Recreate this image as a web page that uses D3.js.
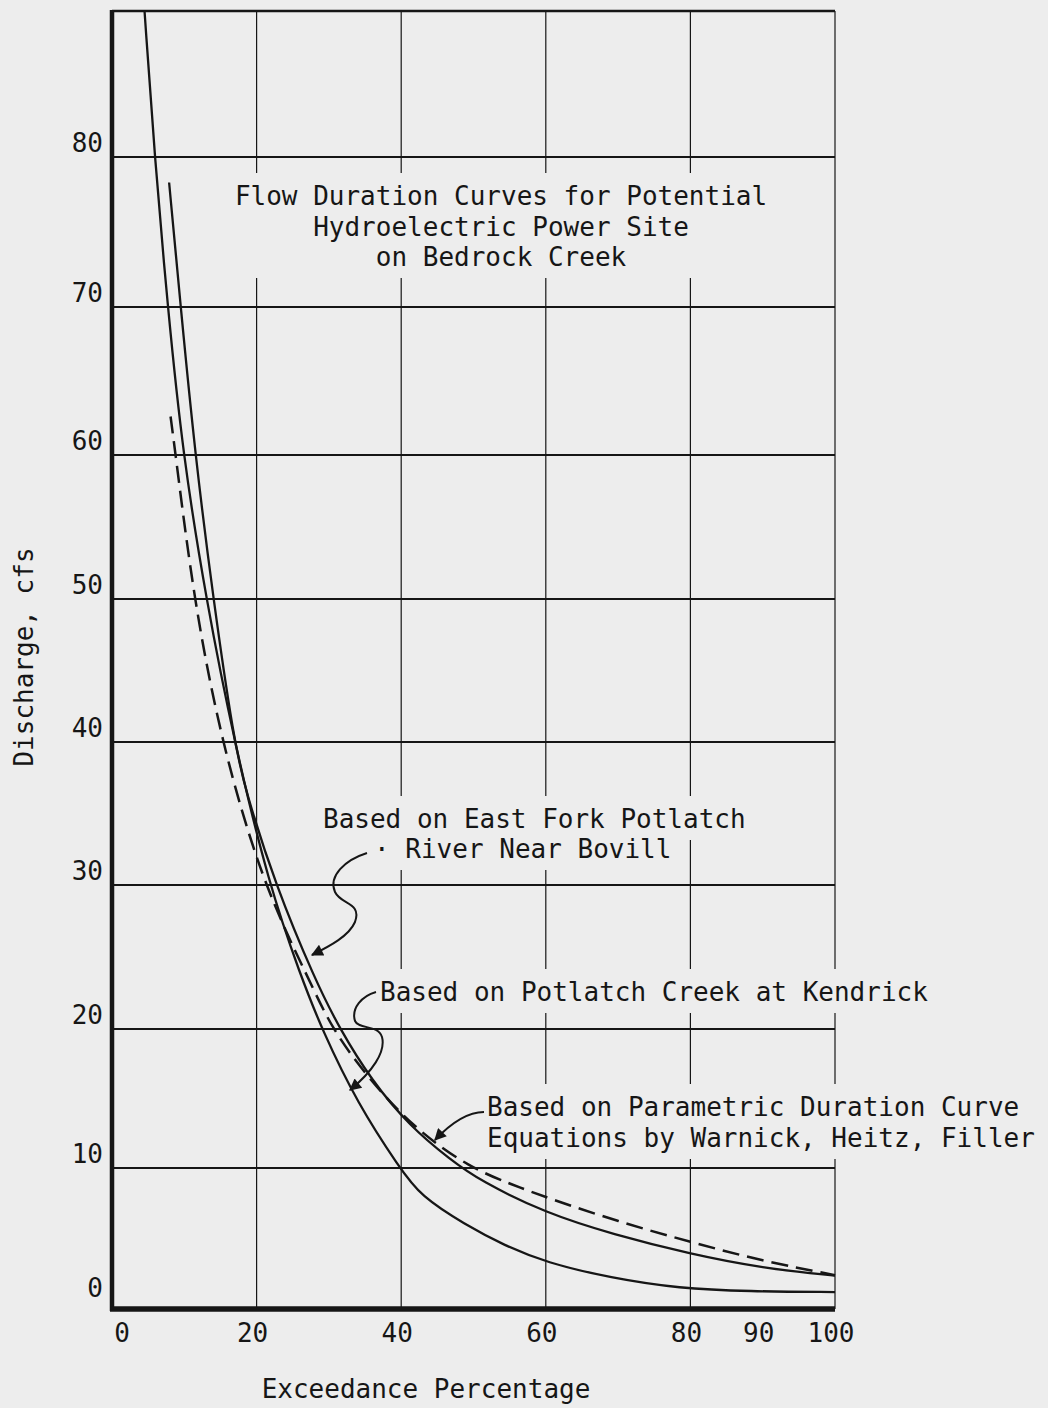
<!DOCTYPE html>
<html>
<head>
<meta charset="utf-8">
<script src="https://cdn.jsdelivr.net/npm/d3@7"></script>
<style>
  body { margin: 0; background: #ededed; }
  text { font-family: "DejaVu Sans Mono", monospace; font-size: 26px; fill: #161616; }
</style>
</head>
<body>
<svg id="chart" width="1048" height="1408"></svg>
<script>
// tick values
var xTickValues = [0, 20, 40, 60, 80, 90, 100];
var xGridValues = [20, 40, 60, 80, 100];
var yTickValues = [0, 10, 20, 30, 40, 50, 60, 70, 80];

// Based on Potlatch Creek at Kendrick (solid, lowest at low flows)
var kendrickPct = [4.5, 5.9, 7.7, 9.8, 13.0, 16.9, 21.7, 26.1, 29.0, 34.0, 39.8, 42.7, 48.8, 54.3, 60.0, 69.0, 78.5, 88.0, 100];
var kendrickCfs = [90, 80, 70, 60, 50, 40, 30, 23.7, 20, 14.6, 10, 8.0, 6.0, 4.5, 3.3, 2.2, 1.45, 1.25, 1.2];

// Based on East Fork Potlatch River near Bovill (solid, upper)
var eastForkPct = [7.9, 9.5, 11.5, 14.0, 16.9, 18.4, 22.6, 28.1, 31.5, 35.9, 41.2, 46.8, 50.9, 60.0, 69.3, 80, 90, 100];
var eastForkCfs = [78.3, 70, 60, 50, 40, 36.7, 30, 23.4, 20, 16.3, 13.0, 10.6, 9.1, 6.8, 5.3, 3.9, 2.9, 2.36];

// Based on parametric duration curve equations (dashed)
var paramPct = [8.1, 8.8, 11.3, 15.1, 20.9, 27.3, 30.4, 35.7, 41.7, 49.5, 55.5, 60.1, 70.0, 80, 90, 100];
var paramCfs = [62.6, 60, 50, 40, 30, 23.4, 20, 16.3, 12.9, 10, 8.8, 7.9, 6.2, 4.75, 3.4, 2.4];

var svg = d3.select('#chart');
var paper = '#ededed', ink = '#161616';

var x = d3.scaleLinear().domain([0, 100]).range([112, 835]);
// the printed grid is slightly uneven, so the value scale is piecewise
var y = d3.scaleLinear()
    .domain([0, 10, 20, 30, 40, 50, 60, 70, 80, 90])
    .range([1309, 1168, 1029, 885, 742, 599, 455, 307, 157, 11]);

var gridLayer = svg.append('g'),
    maskLayer = svg.append('g'),
    curveLayer = svg.append('g'),
    textLayer = svg.append('g');

// horizontal grid (heavier), vertical grid (thin)
gridLayer.selectAll('.hgrid')
    .data(yTickValues.filter(function(d) { return d > 0; }))
  .enter().append('line')
    .attr('x1', x(0)).attr('x2', x(100))
    .attr('y1', y).attr('y2', y)
    .attr('stroke', ink).attr('stroke-width', 2.2);

gridLayer.selectAll('.vgrid')
    .data(xGridValues)
  .enter().append('line')
    .attr('x1', x).attr('x2', x)
    .attr('y1', y(90)).attr('y2', y(0))
    .attr('stroke', ink).attr('stroke-width', 1.2);

gridLayer.append('line')
    .attr('x1', x(0)).attr('x2', x(100)).attr('y1', y(90)).attr('y2', y(90))
    .attr('stroke', ink).attr('stroke-width', 2.5);

// tick labels
textLayer.selectAll('.ylab')
    .data(yTickValues)
  .enter().append('text')
    .attr('x', 103)
    .attr('y', function(d) { return y(d) - (d === 0 ? 12 : 5); })
    .attr('text-anchor', 'end')
    .text(function(d) { return d; });

textLayer.selectAll('.xlab')
    .data(xTickValues)
  .enter().append('text')
    .attr('x', function(d) { return d === 0 ? x(d) + 10 : x(d) - 4; })
    .attr('y', 1342)
    .attr('text-anchor', 'middle')
    .text(function(d) { return d; });

textLayer.append('text')
    .attr('x', 426).attr('y', 1398)
    .attr('text-anchor', 'middle')
    .text('Exceedance Percentage');

textLayer.append('text')
    .attr('transform', 'translate(33,657) rotate(-90)')
    .attr('text-anchor', 'middle')
    .text('Discharge, cfs');

// text block with a paper patch behind it, so the grid breaks round it
function note(lines, px, py, anchor, lead) {
    var g = textLayer.append('g');
    lines.forEach(function(s, i) {
        g.append('text')
            .attr('x', px).attr('y', py + i * lead)
            .attr('text-anchor', anchor)
            .text(s);
    });
    var b = g.node().getBBox();
    maskLayer.append('rect')
        .attr('x', b.x - 6).attr('y', b.y - 8)
        .attr('width', b.width + 12).attr('height', b.height + 14)
        .attr('fill', paper);
}

note(['Flow Duration Curves for Potential', 'Hydroelectric Power Site', 'on Bedrock Creek'], 501, 205, 'middle', 30.5);
note(['Based on East Fork Potlatch'], 323, 828, 'start', 30);
note(['· River Near Bovill'], 374, 858, 'start', 30);
note(['Based on Potlatch Creek at Kendrick'], 380, 1001, 'start', 30);
note(['Based on Parametric Duration Curve', 'Equations by Warnick, Heitz, Filler'], 487, 1116, 'start', 31);

// curves
var series = [
    { name: 'kendrick', pct: kendrickPct, cfs: kendrickCfs, dash: null, w: 2.3 },
    { name: 'eastFork', pct: eastForkPct, cfs: eastForkCfs, dash: null, w: 2.3 },
    { name: 'param', pct: paramPct, cfs: paramCfs, dash: '17,8', w: 2.5 }
];

var line = d3.line()
    .x(function(d) { return x(d[0]); })
    .y(function(d) { return y(d[1]); })
    .curve(d3.curveBasis);

curveLayer.selectAll('.curve')
    .data(series)
  .enter().append('path')
    .attr('d', function(s) { return line(d3.zip(s.pct, s.cfs)); })
    .attr('fill', 'none')
    .attr('stroke', ink)
    .attr('stroke-width', function(s) { return s.w; })
    .attr('stroke-dasharray', function(s) { return s.dash; });

// heavy axes over the curves' ends
curveLayer.append('line')
    .attr('x1', x(0)).attr('x2', x(0)).attr('y1', y(90) - 1).attr('y2', y(0) + 2)
    .attr('stroke', ink).attr('stroke-width', 4.5);
curveLayer.append('line')
    .attr('x1', x(0) - 2).attr('x2', x(100)).attr('y1', y(0)).attr('y2', y(0))
    .attr('stroke', ink).attr('stroke-width', 5.5);

// hand-drawn pointer arrows
svg.append('defs').append('marker')
    .attr('id', 'head')
    .attr('viewBox', '0 0 10 10')
    .attr('refX', 9).attr('refY', 5)
    .attr('markerWidth', 17).attr('markerHeight', 12)
    .attr('markerUnits', 'userSpaceOnUse')
    .attr('orient', 'auto')
  .append('path')
    .attr('d', 'M0,0 L10,5 L0,10 Z')
    .attr('fill', ink);

var arrows = [
    'M367,853 C345,860 328,876 335,892 C341,905 362,902 355,922 C349,936 330,946 312,955',
    'M376,992 C362,996 351,1008 355,1021 C359,1030 378,1024 382,1037 C386,1052 372,1072 350,1090',
    'M484,1112 C468,1112 452,1122 435,1140'
];
curveLayer.selectAll('.arrow')
    .data(arrows)
  .enter().append('path')
    .attr('d', function(d) { return d; })
    .attr('fill', 'none')
    .attr('stroke', ink)
    .attr('stroke-width', 2)
    .attr('marker-end', 'url(#head)');
</script>
</body>
</html>
